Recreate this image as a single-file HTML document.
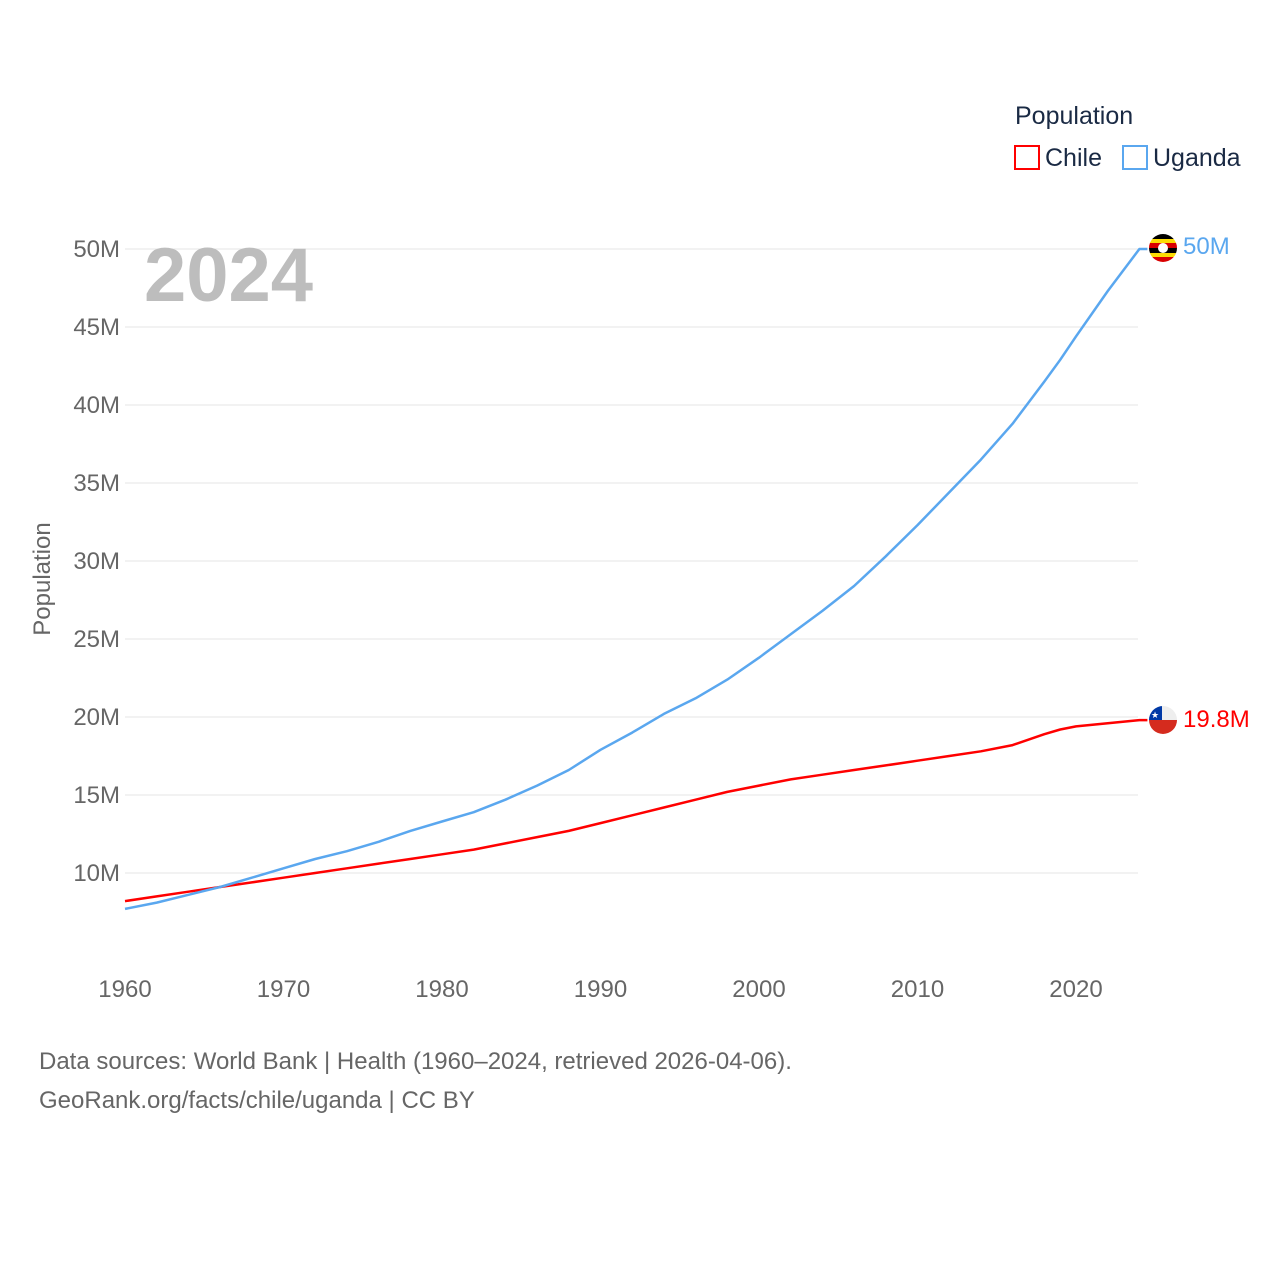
<!DOCTYPE html>
<html><head><meta charset="utf-8"><style>
body{margin:0;background:#fff;font-family:"Liberation Sans",sans-serif;}
svg text{font-family:"Liberation Sans",sans-serif;}
</style></head><body>
<svg id="chart" width="1280" height="1280" xmlns="http://www.w3.org/2000/svg">
<rect width="1280" height="1280" fill="#fff"/>
<g id="grid"></g>
<g id="yticks"></g>
<g id="xticks"></g>
<text x="144" y="301" font-size="76" font-weight="bold" fill="#bdbdbd">2024</text>
<text transform="translate(50,579) rotate(-90)" text-anchor="middle" font-size="24" fill="#666">Population</text>
<g id="lines"></g>
<g>
<text x="1015" y="124" font-size="25" fill="#1a2a44">Population</text>
<g><rect x="1015" y="146" width="24" height="23" fill="none" stroke="#f00" stroke-width="2"/><text x="1045" y="166" font-size="25" fill="#1a2a44">Chile</text></g>
<g><rect x="1123" y="146" width="24" height="23" fill="none" stroke="#5aa7ef" stroke-width="2"/><text x="1153" y="166" font-size="25" fill="#1a2a44">Uganda</text></g>
</g>
<g>
<clipPath id="cu"><circle cx="1163" cy="248" r="14"/></clipPath>
<g clip-path="url(#cu)"><rect x="1149" y="234" width="28" height="5" fill="#000"/><rect x="1149" y="239" width="28" height="4" fill="#fcdc04"/><rect x="1149" y="243" width="28" height="5" fill="#d90000"/><rect x="1149" y="248" width="28" height="5" fill="#000"/><rect x="1149" y="253" width="28" height="4" fill="#fcdc04"/><rect x="1149" y="257" width="28" height="5" fill="#d90000"/><circle cx="1163" cy="248" r="5" fill="#fff"/></g>
</g>
<g>
<clipPath id="cc"><circle cx="1163" cy="720" r="14"/></clipPath>
<g clip-path="url(#cc)"><rect x="1149" y="706" width="28" height="14" fill="#eee"/><rect x="1149" y="720" width="28" height="14" fill="#d52b1e"/><rect x="1149" y="706" width="13" height="14" fill="#0039a6"/><text x="1151" y="718" font-size="9" fill="#fff">★</text></g>
</g>
<text x="1183" y="254" font-size="24" fill="#5aa7ef">50M</text>
<text x="1183" y="727" font-size="24" fill="#f00">19.8M</text>
<text x="39" y="1069" font-size="24" fill="#666">Data sources: World Bank | Health (1960–2024, retrieved 2026-04-06).</text>
<text x="39" y="1108" font-size="24" fill="#666">GeoRank.org/facts/chile/uganda | CC BY</text>
</svg>
<script>
const yTicks=[10,15,20,25,30,35,40,45,50];
const xTicks=[1960,1970,1980,1990,2000,2010,2020];
const years=[1960,1962,1964,1966,1968,1970,1972,1974,1976,1978,1980,1982,1984,1986,1988,1990,1992,1994,1996,1998,2000,2002,2004,2006,2008,2010,2012,2014,2016,2018,2019,2020,2022,2024];
const uganda=[7.7,8.1,8.6,9.1,9.7,10.3,10.9,11.4,12.0,12.7,13.3,13.9,14.7,15.6,16.6,17.9,19.0,20.2,21.2,22.4,23.8,25.3,26.8,28.4,30.3,32.3,34.4,36.5,38.8,41.5,42.9,44.4,47.3,50.0];
const chile=[8.2,8.5,8.8,9.1,9.4,9.7,10.0,10.3,10.6,10.9,11.2,11.5,11.9,12.3,12.7,13.2,13.7,14.2,14.7,15.2,15.6,16.0,16.3,16.6,16.9,17.2,17.5,17.8,18.2,18.9,19.2,19.4,19.6,19.8];
const X=y=>125+(y-1960)*(1076-125)/60;
const Y=v=>873-(v-10)*15.6;
const NS="http://www.w3.org/2000/svg";
function mk(t,a,p){const e=document.createElementNS(NS,t);for(const k in a)e.setAttribute(k,a[k]);p.appendChild(e);return e;}
const grid=document.getElementById('grid'),yt=document.getElementById('yticks'),xt=document.getElementById('xticks'),ln=document.getElementById('lines');
yTicks.forEach(v=>{
 const l=mk('line',{x1:125,x2:1138,y1:Y(v),y2:Y(v),stroke:'#e6e6e6','stroke-width':1},grid);
 
 
 const t=mk('text',{x:120,y:Y(v)+8,'text-anchor':'end','font-size':24,fill:'#666'},yt);
 t.textContent=v+'M';
 
 
});
xTicks.forEach(v=>{
 const t=mk('text',{x:X(v),y:997,'text-anchor':'middle','font-size':24,fill:'#666'},xt);
 t.textContent=v;
 
 
});
function line(vals,color,name){
 let d=vals.map((v,i)=>(i?'L':'M')+X(years[i]).toFixed(1)+','+Y(v).toFixed(1)).join(' ');
 d+=' L'+(X(years[years.length-1])+8)+','+Y(vals[vals.length-1]).toFixed(1);
 const p=mk('path',{d:d,fill:'none',stroke:color,'stroke-width':2.5,'stroke-linejoin':'round'},ln);
 
 
}
line(chile,'#f00','chile-line');
line(uganda,'#5aa7ef','uganda-line');
</script>
</body></html>
